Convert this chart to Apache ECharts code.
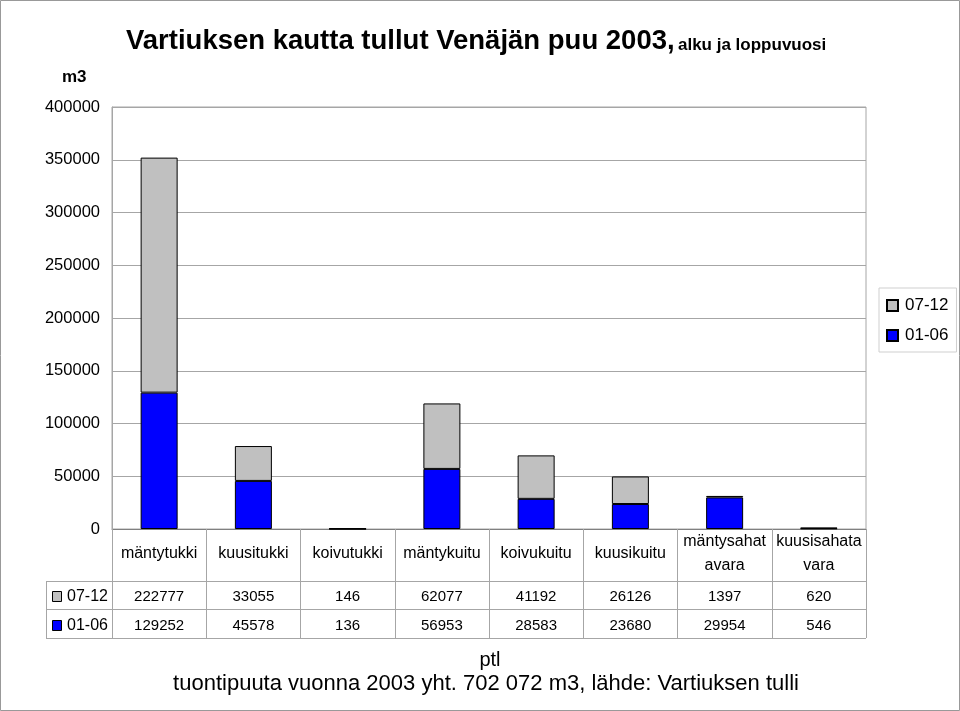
<!DOCTYPE html>
<html><head><meta charset="utf-8">
<script src="https://cdn.jsdelivr.net/npm/echarts@6/dist/echarts.min.js"></script>
<style>html,body{margin:0;padding:0;background:#fff}#c{width:960px;height:711px}</style>
</head><body><div id="c"></div>
<script>
const categories = ['mäntytukki','kuusitukki','koivutukki','mäntykuitu','koivukuitu','kuusikuitu','mäntysahat\navara','kuusisahata\nvara'];
const seriesNames = ['07-12','01-06'];
const values0712 = [222777,33055,146,62077,41192,26126,1397,620];
const values0106 = [129252,45578,136,56953,28583,23680,29954,546];
const yMin = 0, yMax = 400000, yStep = 50000;
const titleMain = 'Vartiuksen kautta tullut Venäjän puu 2003,';
const titleSub = 'alku ja loppuvuosi';
const yUnit = 'm3';
const footer1 = 'ptl';
const footer2 = 'tuontipuuta vuonna 2003 yht. 702 072 m3, lähde: Vartiuksen tulli';

const SANS = "'Liberation Sans',Arial,sans-serif";
const GRAY = '#c0c0c0', BLUE = '#0000ff', LINE = '#a6a6a6';

const G = {left:112, right:94, top:107, bottom:182};
const W = 960, H = 711;
const x1 = W - G.right;

const chart = echarts.init(document.getElementById('c'), null, {renderer:'canvas'});

function valueAxis(data, margin){
  return {
    type:'category', data:data.map(String), gridIndex:0, position:'bottom',
    axisLine:{show:false}, axisTick:{show:false}, splitLine:{show:false},
    axisLabel:{interval:0, margin:margin, verticalAlign:'middle', fontFamily:SANS, fontSize:15, color:'#000'}
  };
}

const option = {
  backgroundColor:'#fff',
  animation:false,
  grid:{left:G.left, right:G.right, top:G.top, bottom:G.bottom, show:true, borderColor:LINE, borderWidth:1},
  legend:{
    data:seriesNames, orient:'vertical', left:879, top:288,
    itemWidth:11, itemHeight:11, itemGap:13,
    padding:[9,8,8,7], borderColor:'#cfcfcf', borderWidth:1,
    icon:'rect',
    textStyle:{fontFamily:SANS, fontSize:17, color:'#000', padding:[0,0,0,2]}
  },
  xAxis:[
    {
      type:'category', data:categories, gridIndex:0, position:'bottom',
      axisLine:{show:true, lineStyle:{color:'#808080'}},
      axisTick:{show:true, interval:0, length:109, lineStyle:{color:LINE}},
      axisLabel:{interval:0, margin:25, verticalAlign:'middle', fontFamily:SANS, fontSize:16, lineHeight:24, color:'#000'},
      splitLine:{show:false}
    },
    valueAxis(values0712, 68),
    valueAxis(values0106, 97)
  ],
  yAxis:{
    type:'value', min:yMin, max:yMax, interval:yStep,
    axisLine:{show:true, lineStyle:{color:LINE}},
    axisTick:{show:false},
    splitLine:{show:true, lineStyle:{color:LINE}},
    axisLabel:{margin:12, fontFamily:SANS, fontSize:16.5, color:'#000', formatter:function(v){return String(v);}}
  },
  series:[
    {name:seriesNames[1], type:'bar', stack:'s', data:values0106, barWidth:37, xAxisIndex:0,
     itemStyle:{color:BLUE, borderColor:'#000', borderWidth:1}},
    {name:seriesNames[0], type:'bar', stack:'s', data:values0712, barWidth:37, xAxisIndex:0,
     itemStyle:{color:GRAY, borderColor:'#000', borderWidth:1}}
  ],
  graphic:[
    {type:'rect', shape:{x:0.5,y:0.5,width:W-1,height:H-1}, style:{fill:'none', stroke:'#999', lineWidth:1}, silent:true},
    {type:'text', left:126, top:27, style:{
      text:'{a|'+titleMain+'} {b|'+titleSub+'}',
      rich:{a:{fontFamily:SANS, fontWeight:'bold', fontSize:27.5, fill:'#000'},
            b:{fontFamily:SANS, fontWeight:'bold', fontSize:17, fill:'#000', padding:[8,0,0,0]}}}},
    {type:'text', left:62, top:69, style:{text:yUnit, fontFamily:SANS, fontWeight:'bold', fontSize:17, fill:'#000'}},
    {type:'line', shape:{x1:46, y1:581.5, x2:x1, y2:581.5}, style:{stroke:LINE, lineWidth:1}},
    {type:'line', shape:{x1:46, y1:609.5, x2:x1, y2:609.5}, style:{stroke:LINE, lineWidth:1}},
    {type:'line', shape:{x1:46, y1:638.5, x2:x1, y2:638.5}, style:{stroke:LINE, lineWidth:1}},
    {type:'line', shape:{x1:46.5, y1:581, x2:46.5, y2:638}, style:{stroke:LINE, lineWidth:1}},
    {type:'rect', shape:{x:52.5, y:591.5, width:9, height:10}, style:{fill:GRAY, stroke:'#000', lineWidth:1}},
    {type:'text', left:67, top:589, style:{text:seriesNames[0], fontFamily:SANS, fontSize:16, fill:'#000'}},
    {type:'rect', shape:{x:52.5, y:620.5, width:9, height:10}, style:{fill:BLUE, stroke:'#000', lineWidth:1}},
    {type:'text', left:67, top:618, style:{text:seriesNames[1], fontFamily:SANS, fontSize:16, fill:'#000'}},
    {type:'text', x:490, y:660, style:{text:footer1, align:'center', verticalAlign:'middle', fontFamily:SANS, fontSize:20, fill:'#000'}},
    {type:'text', x:486, y:684, style:{text:footer2, align:'center', verticalAlign:'middle', fontFamily:SANS, fontSize:22, fill:'#000'}}
  ]
};
chart.setOption(option);
</script></body></html>
